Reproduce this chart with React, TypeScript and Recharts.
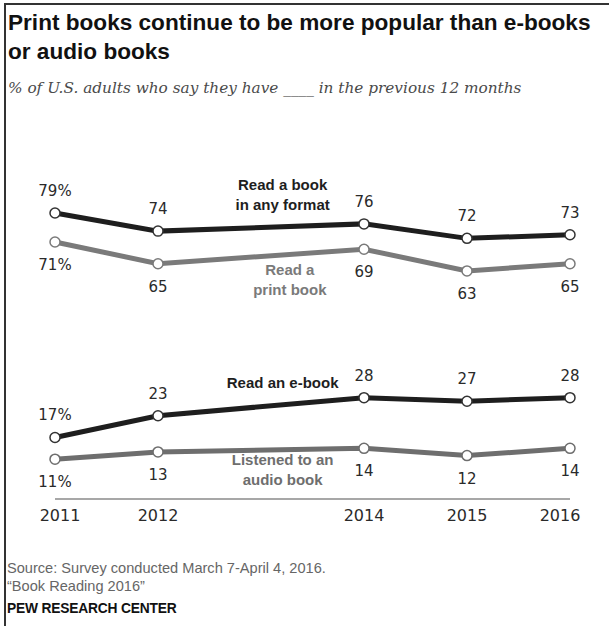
import React from "react";
import { LineChart, Line, XAxis, YAxis, LabelList, ReferenceDot } from "recharts";

const years = [2011, 2012, 2014, 2015, 2016];
const anyFormat = [79, 74, 76, 72, 73];
const printBook = [71, 65, 69, 63, 65];
const ebook = [17, 23, 28, 27, 28];
const audio = [11, 13, 14, 12, 14];

const title = "Print books continue to be more popular than e-books or audio books";
const subtitle = "% of U.S. adults who say they have ____ in the previous 12 months";
const source1 = "Source: Survey conducted March 7-April 4, 2016.";
const source2 = "\u201cBook Reading 2016\u201d";
const brand = "PEW RESEARCH CENTER";

const seriesNotes = [
  { x: 2013.21, y: 84, lines: ["Read a book", "in any format"], color: "#1e1e1e" },
  { x: 2013.28, y: 60.5, lines: ["Read a", "print book"], color: "#7a7a7a" },
  { x: 2013.21, y: 32, lines: ["Read an e-book"], color: "#1e1e1e" },
  { x: 2013.21, y: 8, lines: ["Listened to an", "audio book"], color: "#6e6e6e" },
];

const data = years.map((yr, i) => ({
  year: yr,
  anyFormat: anyFormat[i],
  printBook: printBook[i],
  ebook: ebook[i],
  audio: audio[i],
}));

const DARK = "#1e1e1e";
const GRAY = "#7a7a7a";
const GRAY2 = "#6e6e6e";

const valFont = "'DejaVu Sans', 'Liberation Sans', sans-serif";

const makeLabel = (pos: "above" | "below") => (props: any) => {
  const { x, y, value, index } = props;
  const txt = index === 0 ? `${value}%` : `${value}`;
  const ty = pos === "above" ? y - 17 : y + 28;
  return (
    <text x={x} y={ty} textAnchor="middle" fontFamily={valFont} fontSize={15} fill="#2a2a2a">
      {txt}
    </text>
  );
};

const Tick = (props: any) => {
  const { x, y, payload, index } = props;
  const dx = index === 0 ? 5 : index === years.length - 1 ? -10 : 0;
  return (
    <text x={x + dx} y={y + 14} textAnchor="middle" fontFamily={valFont} fontSize={16} fill="#2a2a2a">
      {payload.value}
    </text>
  );
};

const noteContent = (lines: string[], color: string) => (props: any) => {
  const vb = props.viewBox || {};
  const cx = vb.cx !== undefined ? vb.cx : vb.x + (vb.width || 0) / 2;
  const cy = vb.cy !== undefined ? vb.cy : vb.y + (vb.height || 0) / 2;
  const lh = 20;
  const start = cy - ((lines.length - 1) * lh) / 2 + 5;
  return (
    <g>
      {lines.map((l, i) => (
        <text
          key={i}
          x={cx}
          y={start + i * lh}
          textAnchor="middle"
          fontFamily="'Liberation Sans Narrow', 'Liberation Sans', sans-serif"
          fontWeight="bold"
          fontSize={15}
          fill={color}
        >
          {l}
        </text>
      ))}
    </g>
  );
};

export default function App() {
  return (
    <div style={{ position: "absolute", left: 0, top: 0, width: 609, height: 626, background: "#fff", overflow: "hidden" }}>
      <div style={{ position: "absolute", left: 5, top: 3, width: 604, height: 2, background: "#333" }} />
      <div style={{ position: "absolute", left: 4, top: 3, width: 2, height: 623, background: "#333" }} />
      <div
        style={{
          position: "absolute",
          left: 8,
          top: 8,
          width: 592,
          fontFamily: "'Liberation Sans', Arial, sans-serif",
          fontWeight: "bold",
          fontSize: 22.6,
          lineHeight: "29px",
          color: "#111",
        }}
      >
        {title}
      </div>
      <div
        style={{
          position: "absolute",
          left: 8,
          top: 79,
          fontFamily: "'DejaVu Serif', Georgia, serif",
          fontStyle: "italic",
          fontSize: 15.3,
          color: "#4a4a4a",
          whiteSpace: "nowrap",
        }}
      >
        {subtitle}
      </div>
      <div style={{ position: "absolute", left: 0, top: 0 }}>
        <LineChart width={609} height={626} data={data} margin={{ top: 137, right: 39, bottom: 97, left: 55 }}>
          <XAxis
            dataKey="year"
            type="number"
            domain={[2011, 2016]}
            ticks={years}
            tickLine={false}
            axisLine={{ stroke: "#8a8a8a", strokeWidth: 1.5 }}
            tick={<Tick />}
            height={30}
          />
          <YAxis hide domain={[0, 100]} />
          <Line
            dataKey="printBook"
            stroke={GRAY}
            strokeWidth={5}
            dot={{ r: 5, fill: "#fff", stroke: GRAY, strokeWidth: 1.5 }}
            isAnimationActive={false}
          >
            <LabelList dataKey="printBook" content={makeLabel("below")} />
          </Line>
          <Line
            dataKey="anyFormat"
            stroke={DARK}
            strokeWidth={5}
            dot={{ r: 5, fill: "#fff", stroke: "#333", strokeWidth: 1.5 }}
            isAnimationActive={false}
          >
            <LabelList dataKey="anyFormat" content={makeLabel("above")} />
          </Line>
          <Line
            dataKey="audio"
            stroke={GRAY2}
            strokeWidth={5}
            dot={{ r: 5, fill: "#fff", stroke: GRAY2, strokeWidth: 1.5 }}
            isAnimationActive={false}
          >
            <LabelList dataKey="audio" content={makeLabel("below")} />
          </Line>
          <Line
            dataKey="ebook"
            stroke={DARK}
            strokeWidth={5}
            dot={{ r: 5, fill: "#fff", stroke: "#333", strokeWidth: 1.5 }}
            isAnimationActive={false}
          >
            <LabelList dataKey="ebook" content={makeLabel("above")} />
          </Line>
          {seriesNotes.map((n, i) => (
            <ReferenceDot
              key={i}
              x={n.x}
              y={n.y}
              r={0}
              fill="none"
              stroke="none"
              ifOverflow="visible"
              label={noteContent(n.lines, n.color)}
            />
          ))}
        </LineChart>
      </div>
      <div
        style={{
          position: "absolute",
          left: 7,
          top: 559,
          fontFamily: "'Liberation Sans Narrow', 'Liberation Sans', sans-serif",
          fontSize: 14.6,
          lineHeight: "18px",
          color: "#666",
          whiteSpace: "nowrap",
        }}
      >
        <div>{source1}</div>
        <div>{source2}</div>
      </div>
      <div
        style={{
          position: "absolute",
          left: 7,
          top: 601,
          fontFamily: "'Liberation Sans', Arial, sans-serif",
          fontWeight: "bold",
          fontSize: 13.8,
          letterSpacing: -0.2,
          color: "#111",
          whiteSpace: "nowrap",
        }}
      >
        {brand}
      </div>
    </div>
  );
}
